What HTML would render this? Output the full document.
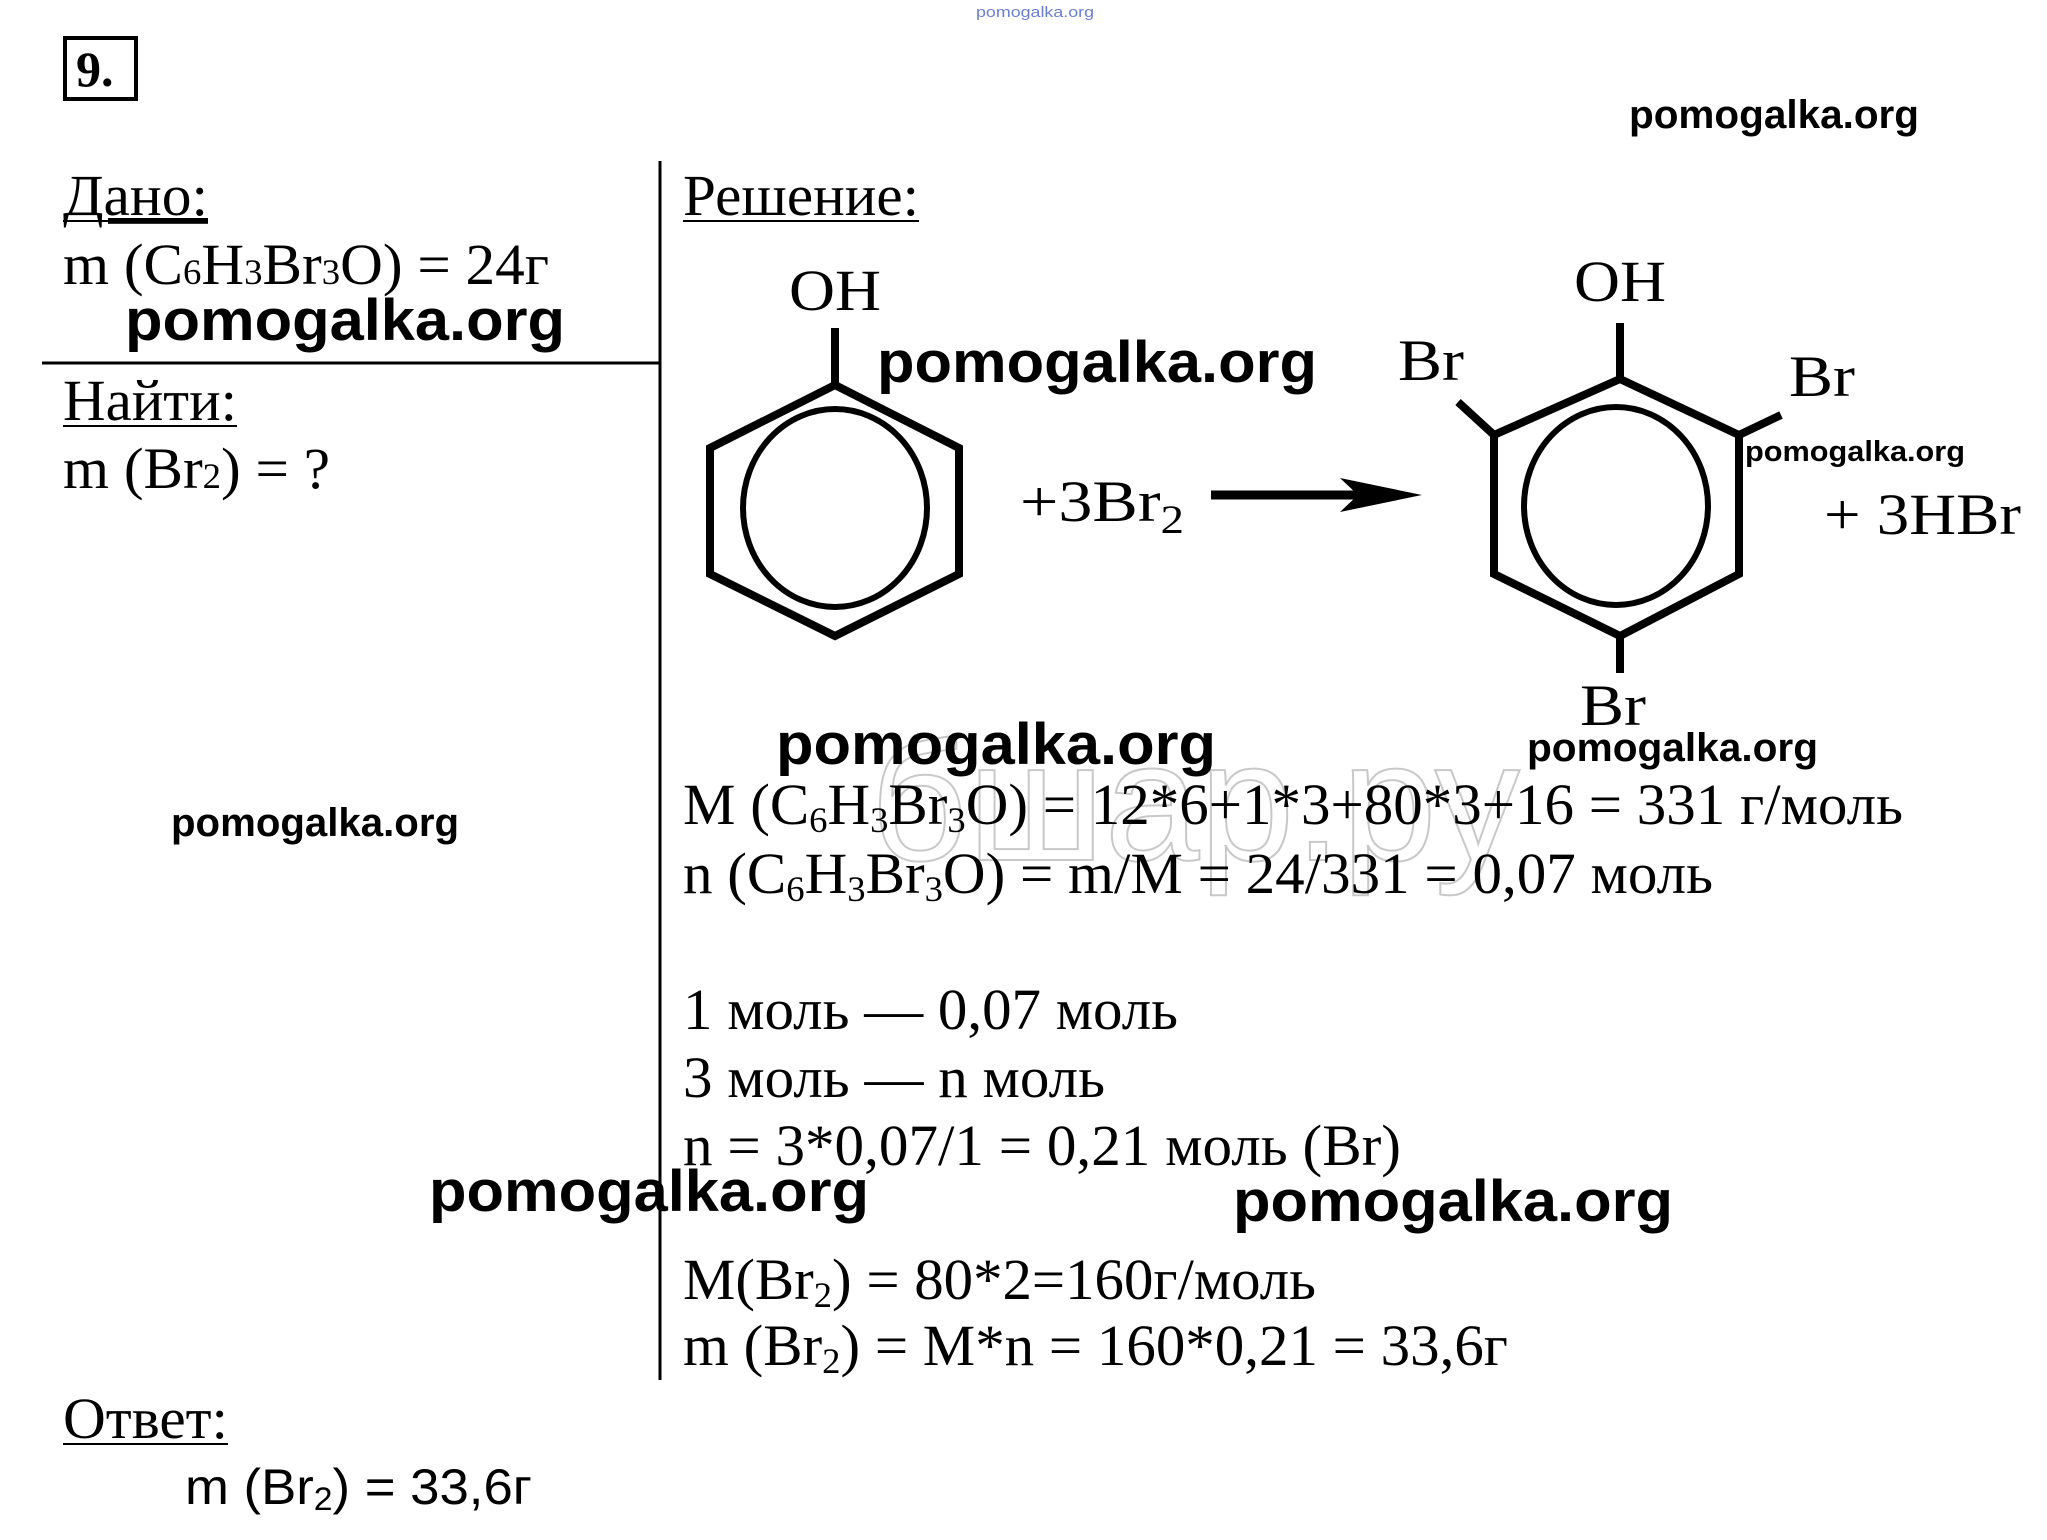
<!DOCTYPE html>
<html><head><meta charset="utf-8"><style>html,body{margin:0;padding:0;background:#fff}svg{display:block}</style></head>
<body>
<svg width="2047" height="1540" viewBox="0 0 2047 1540" xmlns="http://www.w3.org/2000/svg">
<rect width="2047" height="1540" fill="#fff"/>
<g font-family="Liberation Serif, serif" fill="#000" font-size="58" lengthAdjust="spacingAndGlyphs">
<text x="870" y="860" font-family="Liberation Sans, sans-serif" font-size="170" fill="none" stroke="#c8c8c8" stroke-width="2" textLength="650" lengthAdjust="spacingAndGlyphs">бшар.ру</text>
</g>
<!-- box 9 -->
<rect x="65" y="38" width="71" height="61" fill="none" stroke="#000" stroke-width="4"/>
<text x="76" y="86" font-family="Liberation Serif, serif" font-weight="bold" font-size="50">9.</text>
<text x="976" y="17" font-family="Liberation Sans, sans-serif" font-size="15" fill="#6a7fd0" textLength="118" lengthAdjust="spacingAndGlyphs">pomogalka.org</text>
<!-- lines -->
<line x1="660" y1="161" x2="660" y2="1380" stroke="#000" stroke-width="3"/>
<line x1="42" y1="363" x2="660" y2="363" stroke="#000" stroke-width="3"/>
<g font-family="Liberation Serif, serif" fill="#000" font-size="58">
<text x="63" y="215" textLength="145" lengthAdjust="spacingAndGlyphs" text-decoration="underline">Дано:</text>
<line x1="63" y1="221" x2="208" y2="221" stroke="#000" stroke-width="2"/>
<text x="63" y="284" textLength="486" lengthAdjust="spacingAndGlyphs">m (C<tspan font-size="36">6</tspan>H<tspan font-size="36">3</tspan>Br<tspan font-size="36">3</tspan>O) = 24г</text>
<text x="63" y="420" textLength="174" lengthAdjust="spacingAndGlyphs">Найти:</text>
<line x1="63" y1="426" x2="237" y2="426" stroke="#000" stroke-width="2"/>
<text x="63" y="488" textLength="267" lengthAdjust="spacingAndGlyphs">m (Br<tspan font-size="36">2</tspan>) = ?</text>
<text x="683" y="215" textLength="236" lengthAdjust="spacingAndGlyphs">Решение:</text>
<line x1="683" y1="221" x2="919" y2="221" stroke="#000" stroke-width="2"/>
<text x="683" y="824" textLength="1220" lengthAdjust="spacingAndGlyphs">M (C<tspan font-size="36" dy="8">6</tspan><tspan dy="-8">H</tspan><tspan font-size="36" dy="8">3</tspan><tspan dy="-8">Br</tspan><tspan font-size="36" dy="8">3</tspan><tspan dy="-8">O) = 12*6+1*3+80*3+16 = 331 г/моль</tspan></text>
<text x="683" y="893" textLength="1030" lengthAdjust="spacingAndGlyphs">n (C<tspan font-size="36" dy="8">6</tspan><tspan dy="-8">H</tspan><tspan font-size="36" dy="8">3</tspan><tspan dy="-8">Br</tspan><tspan font-size="36" dy="8">3</tspan><tspan dy="-8">O) = m/M = 24/331 = 0,07 моль</tspan></text>
<text x="683" y="1029" textLength="495" lengthAdjust="spacingAndGlyphs">1 моль — 0,07 моль</text>
<text x="683" y="1097" textLength="422" lengthAdjust="spacingAndGlyphs">3 моль — n моль</text>
<text x="683" y="1165" textLength="718" lengthAdjust="spacingAndGlyphs">n = 3*0,07/1 = 0,21 моль (Br)</text>
<text x="683" y="1299" textLength="633" lengthAdjust="spacingAndGlyphs">M(Br<tspan font-size="36" dy="8">2</tspan><tspan dy="-8">) = 80*2=160г/моль</tspan></text>
<text x="683" y="1365" textLength="825" lengthAdjust="spacingAndGlyphs">m (Br<tspan font-size="36" dy="8">2</tspan><tspan dy="-8">) = M*n = 160*0,21 = 33,6г</tspan></text>
<text x="63" y="1438" textLength="165" lengthAdjust="spacingAndGlyphs">Ответ:</text>
<line x1="63" y1="1444" x2="228" y2="1444" stroke="#000" stroke-width="2"/>
<!-- chem labels -->
<text x="789" y="310" textLength="92" lengthAdjust="spacingAndGlyphs">OH</text>
<text x="1574" y="301" textLength="92" lengthAdjust="spacingAndGlyphs">OH</text>
<text x="1398" y="380" textLength="66" lengthAdjust="spacingAndGlyphs">Br</text>
<text x="1789" y="396" textLength="66" lengthAdjust="spacingAndGlyphs">Br</text>
<text x="1580" y="725" textLength="66" lengthAdjust="spacingAndGlyphs">Br</text>
<text x="1020" y="521" textLength="164" lengthAdjust="spacingAndGlyphs">+3Br<tspan font-size="40" dy="12">2</tspan></text>
<text x="1824" y="534" textLength="197" lengthAdjust="spacingAndGlyphs">+ 3HBr</text>
</g>
<text x="185" y="1504" font-family="Liberation Sans, sans-serif" font-size="50" textLength="347" lengthAdjust="spacingAndGlyphs">m (Br<tspan font-size="32" dy="6">2</tspan><tspan dy="-6">) = 33,6г</tspan></text>
<!-- molecules -->
<g fill="none" stroke="#000" stroke-width="8">
<polygon points="835,385 959,448 959,574 835,636 710,574 710,448"/>
<ellipse cx="835" cy="508" rx="92" ry="99" stroke-width="6"/>
<line x1="835" y1="328" x2="835" y2="385"/>
<polygon points="1620,379 1739,435 1739,574 1620,636 1494,574 1494,435"/>
<ellipse cx="1616" cy="506" rx="92" ry="99" stroke-width="6"/>
<line x1="1620" y1="323" x2="1620" y2="379"/>
<line x1="1458" y1="402" x2="1494" y2="435"/>
<line x1="1739" y1="435" x2="1781" y2="415"/>
<line x1="1620" y1="636" x2="1620" y2="673"/>
<line x1="1211" y1="495" x2="1395" y2="495" stroke-width="9"/>
</g>
<polygon points="1340,478 1422,495 1340,512 1358,495" fill="#000"/>
<!-- watermarks -->
<g font-family="Liberation Sans, sans-serif" font-weight="bold" fill="#000" lengthAdjust="spacingAndGlyphs">
<text x="1629" y="128" font-size="40" textLength="290" lengthAdjust="spacingAndGlyphs">pomogalka.org</text>
<text x="125" y="340" font-size="58" textLength="440" lengthAdjust="spacingAndGlyphs">pomogalka.org</text>
<text x="877" y="382" font-size="58" textLength="440" lengthAdjust="spacingAndGlyphs">pomogalka.org</text>
<text x="1745" y="461" font-size="29" textLength="220" lengthAdjust="spacingAndGlyphs">pomogalka.org</text>
<text x="776" y="764" font-size="58" textLength="440" lengthAdjust="spacingAndGlyphs">pomogalka.org</text>
<text x="1527" y="761" font-size="40" textLength="291" lengthAdjust="spacingAndGlyphs">pomogalka.org</text>
<text x="171" y="836" font-size="40" textLength="288" lengthAdjust="spacingAndGlyphs">pomogalka.org</text>
<text x="429" y="1211" font-size="58" textLength="440" lengthAdjust="spacingAndGlyphs">pomogalka.org</text>
<text x="1233" y="1221" font-size="58" textLength="440" lengthAdjust="spacingAndGlyphs">pomogalka.org</text>
</g>
</svg>
</body></html>
